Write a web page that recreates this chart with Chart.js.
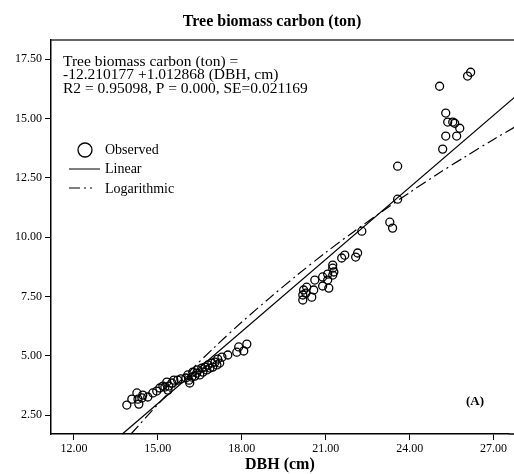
<!DOCTYPE html>
<html>
<head>
<meta charset="utf-8">
<script src="https://cdn.jsdelivr.net/npm/chart.js@4"></script>
<style>
  body { margin: 0; background: #fff; overflow: hidden; }
  #wrap { position: relative; width: 514px; height: 474px; }
</style>
</head>
<body>
<div id="wrap"><canvas id="biomassChart"></canvas></div>
<script>
// observed trees: DBH (cm) and biomass carbon (ton)
const dbhObserved = [
  13.89, 14.07, 14.25, 14.29, 14.32, 14.43, 14.46, 14.64, 14.82, 14.96,
  15.07, 15.18, 15.25, 15.32, 15.39, 15.36, 15.50, 15.57, 15.71, 15.82,
  16.00, 16.07, 16.11, 16.14, 16.21, 16.25, 16.32, 16.39, 16.43, 16.50,
  16.57, 16.61, 16.68, 16.75, 16.79, 16.86, 16.93, 16.96, 17.04, 17.11,
  17.14, 17.21, 17.29, 17.50, 17.82, 17.89, 18.07, 18.18,
  20.18, 20.18, 20.21, 20.32, 20.29, 20.50, 20.61, 20.57, 20.89, 20.89,
  21.07, 21.07, 21.11, 21.25, 21.25, 21.29, 21.25, 21.57, 21.68, 22.07,
  22.14, 22.29, 23.29, 23.39, 23.57, 23.57,
  25.07, 25.29, 25.36, 25.54, 25.61, 25.79, 25.29, 25.68, 25.18, 26.07, 26.18
];
const carbonObserved = [
  2.92, 3.17, 3.43, 3.17, 2.96, 3.22, 3.34, 3.26, 3.43, 3.51,
  3.64, 3.72, 3.68, 3.89, 3.72, 3.55, 3.85, 3.97, 3.97, 4.02,
  4.06, 4.19, 3.97, 3.85, 4.10, 4.31, 4.14, 4.27, 4.40, 4.19,
  4.48, 4.31, 4.52, 4.40, 4.61, 4.48, 4.69, 4.52, 4.73, 4.61,
  4.86, 4.69, 4.94, 5.03, 5.15, 5.37, 5.20, 5.49,
  7.35, 7.56, 7.77, 7.89, 7.64, 7.47, 8.19, 7.77, 8.32, 7.94,
  8.44, 8.19, 7.85, 8.82, 8.69, 8.53, 8.40, 9.12, 9.24, 9.16,
  9.33, 10.25, 10.63, 10.38, 12.99, 11.60,
  16.36, 15.23, 14.85, 14.85, 14.80, 14.59, 14.26, 14.26, 13.71, 16.79, 16.95
];

// fitted lines
const linearX = [13.73, 28.00];
const linearY = [1.70, 16.15];
const logX = [14.04, 15, 16, 17, 18, 19, 20, 21, 22, 23, 24, 25, 26, 27, 28];
const logY = [1.70, 2.95, 4.18, 5.33, 6.42, 7.44, 8.42, 9.35, 10.23, 11.07, 11.88, 12.66, 13.40, 14.12, 14.81];

const xTicks = [12, 15, 18, 21, 24, 27];
const yTicks = [2.5, 5, 7.5, 10, 12.5, 15, 17.5];

const titleText = 'Tree biomass carbon (ton)';
const equationLines = [
  'Tree biomass carbon (ton) =',
  '-12.210177 +1.012868 (DBH, cm)',
  'R2 = 0.95098, P = 0.000, SE=0.021169'
];
const legendLabels = ['Observed', 'Linear', 'Logarithmic'];

const serif = '"Liberation Serif", "Times New Roman", serif';

function pairs(xs, ys) {
  return xs.map((x, i) => ({ x: x, y: ys[i] }));
}

// title, equation box, legend and panel letter drawn over the plot
const overlayPlugin = {
  id: 'overlay',
  afterDraw(chart) {
    const c = chart.ctx;
    const area = chart.chartArea;
    c.save();
    // top frame line
    c.strokeStyle = '#333';
    c.lineWidth = 1.5;
    c.beginPath();
    c.moveTo(area.left, area.top);
    c.lineTo(chart.width, area.top);
    c.stroke();
    // x axis runs on to the edge of the image
    c.strokeStyle = '#000';
    c.beginPath();
    c.moveTo(area.right, area.bottom);
    c.lineTo(chart.width, area.bottom);
    c.stroke();

    c.fillStyle = '#000';
    c.textBaseline = 'middle';
    c.textAlign = 'center';
    c.font = 'bold 16px ' + serif;
    c.fillText(titleText, 272, 22);

    c.textAlign = 'left';
    c.font = '15.5px ' + serif;
    equationLines.forEach((t, i) => c.fillText(t, 63, 62 + i * 13.3));

    // legend
    c.font = '14px ' + serif;
    c.lineWidth = 1.3;
    c.beginPath();
    c.arc(85, 150, 7, 0, Math.PI * 2);
    c.stroke();
    c.fillText(legendLabels[0], 105, 150);

    c.lineWidth = 1;
    c.beginPath();
    c.moveTo(69, 169);
    c.lineTo(100, 169);
    c.stroke();
    c.fillText(legendLabels[1], 105, 169);

    c.setLineDash([11, 4, 2, 4]);
    c.beginPath();
    c.moveTo(69, 188);
    c.lineTo(92, 188);
    c.stroke();
    c.setLineDash([]);
    c.fillText(legendLabels[2], 105, 189);

    c.font = 'bold 13px ' + serif;
    c.fillText('(A)', 466, 402);
    c.restore();
  }
};

new Chart(document.getElementById('biomassChart'), {
  type: 'scatter',
  data: {
    datasets: [
      {
        label: 'Observed',
        data: pairs(dbhObserved, carbonObserved),
        pointStyle: 'circle',
        pointRadius: 4,
        pointBorderWidth: 1.3,
        pointBorderColor: '#000',
        pointBackgroundColor: 'rgba(0,0,0,0)',
        showLine: false
      },
      {
        label: 'Linear',
        data: pairs(linearX, linearY),
        showLine: true,
        clip: false,
        borderColor: '#000',
        borderWidth: 1.2,
        pointRadius: 0,
        fill: false
      },
      {
        label: 'Logarithmic',
        data: pairs(logX, logY),
        showLine: true,
        clip: false,
        borderColor: '#000',
        borderWidth: 1.2,
        borderDash: [11, 4, 2, 4],
        pointRadius: 0,
        tension: 0.3,
        fill: false
      }
    ]
  },
  options: {
    responsive: true,
    maintainAspectRatio: false,
    animation: false,
    layout: { padding: { top: 40, left: 0, right: 0, bottom: 0 } },
    plugins: {
      legend: { display: false },
      tooltip: { enabled: false }
    },
    scales: {
      x: {
        type: 'linear',
        min: 11.18,
        max: 27.54,
        afterBuildTicks: s => { s.ticks = xTicks.map(v => ({ value: v })); },
        afterFit: s => { s.height = 40; },
        ticks: {
          callback: v => v.toFixed(2),
          color: '#000',
          font: { family: serif, size: 12 },
          padding: 2,
          maxRotation: 0
        },
        grid: { drawOnChartArea: false, tickLength: 6, color: '#000' },
        border: { color: '#000', width: 1.5 },
        title: {
          display: true,
          text: 'DBH (cm)',
          color: '#000',
          font: { family: serif, size: 16, weight: 'bold' },
          padding: { top: 0, bottom: 0 }
        }
      },
      y: {
        type: 'linear',
        min: 1.70,
        max: 18.31,
        afterBuildTicks: s => { s.ticks = yTicks.map(v => ({ value: v })); },
        afterFit: s => { s.width = 51; },
        ticks: {
          callback: v => v.toFixed(2),
          color: '#000',
          font: { family: serif, size: 12 },
          padding: 3
        },
        grid: { drawOnChartArea: false, tickLength: 6, color: '#000' },
        border: { color: '#000', width: 1.5 }
      }
    }
  },
  plugins: [overlayPlugin]
});
</script>
</body>
</html>
